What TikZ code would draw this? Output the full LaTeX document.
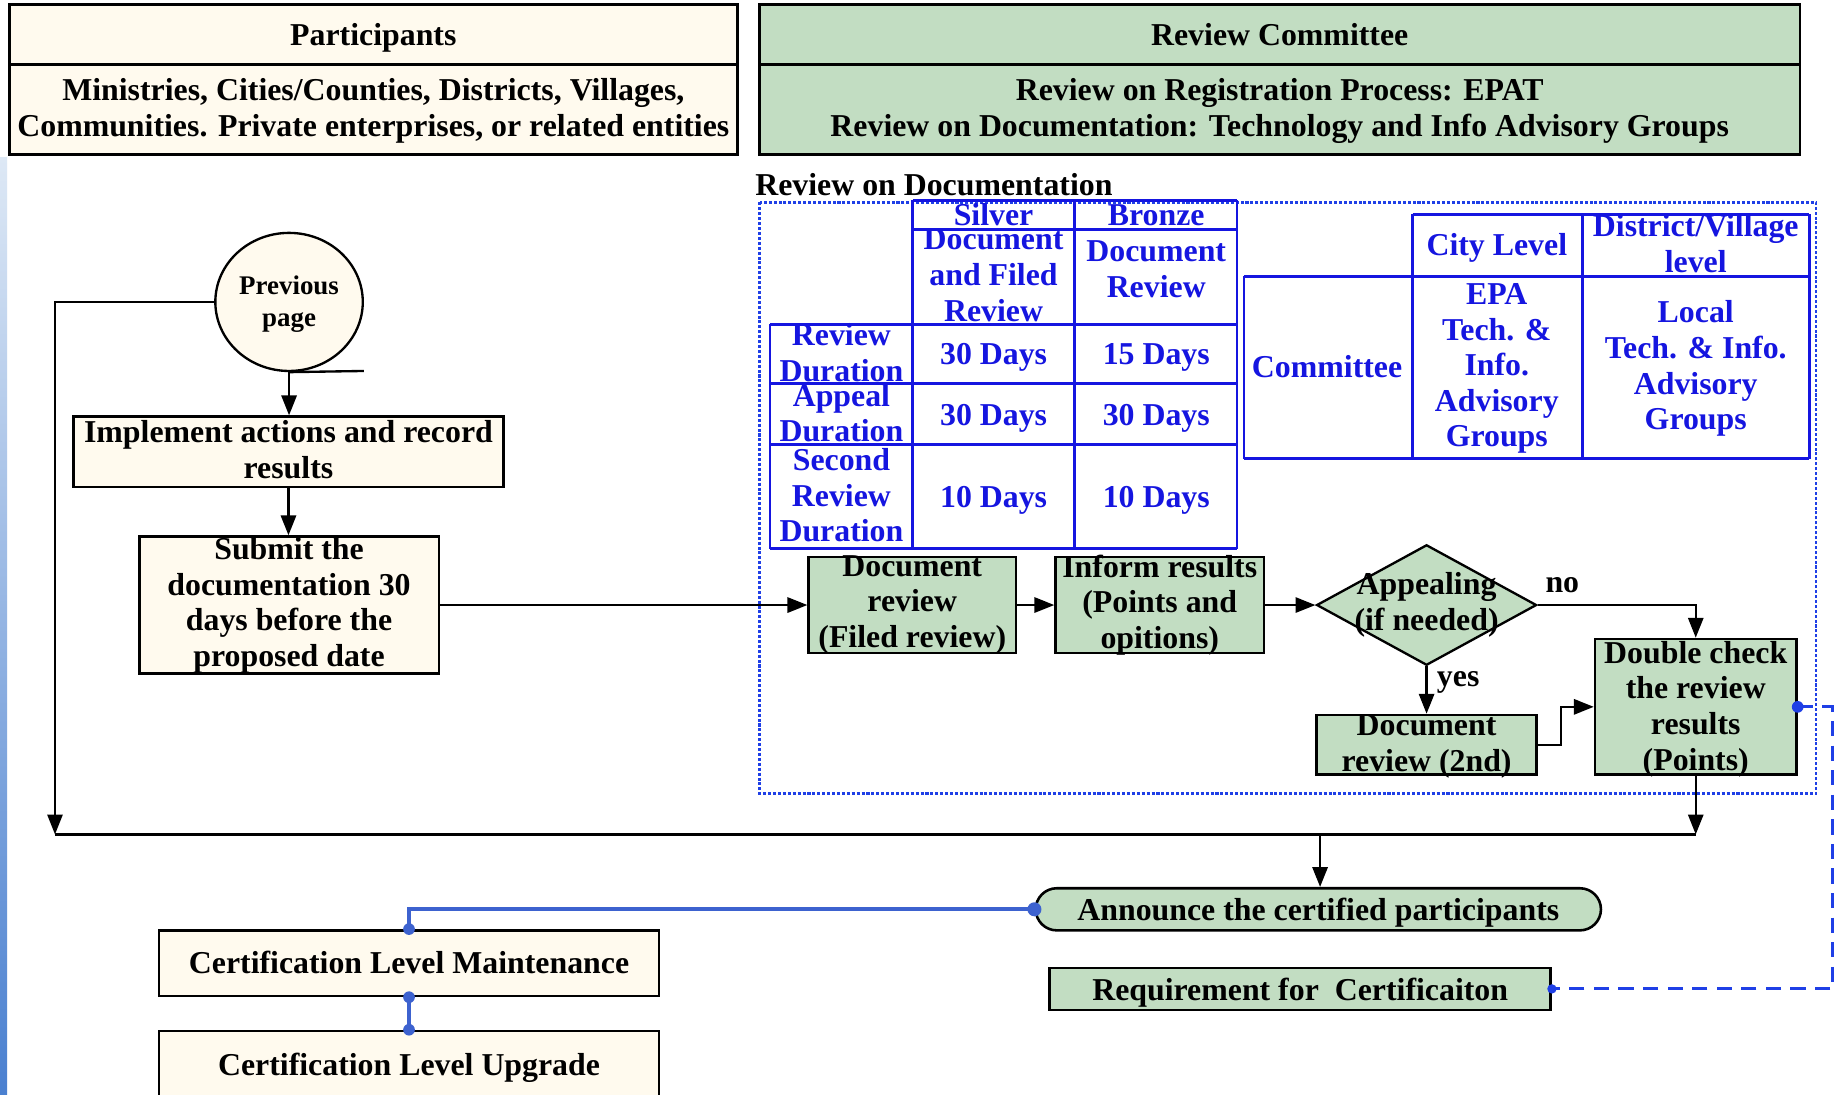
\documentclass[tikz,border=0pt]{standalone}
\usepackage{fontspec}
\setmainfont{Liberation Serif}
\usetikzlibrary{arrows.meta,shapes.geometric}
\definecolor{cream}{HTML}{FFFAEE}
\definecolor{sage}{HTML}{C2DDC2}
\definecolor{tblue}{HTML}{1515E0}
\definecolor{cblue}{HTML}{3D62CF}
\definecolor{fblue}{HTML}{1F3FE6}
\definecolor{stripa}{HTML}{DDE8F5}
\definecolor{stripb}{HTML}{4A80D0}
\newcommand\fsz{\fontsize{13.6}{15.2}\selectfont\bfseries}
\newcommand\fsm{\fontsize{11.5}{13.5}\selectfont\bfseries}
\begin{document}
\begin{tikzpicture}[x=0.5pt,y=-0.5pt,
  every node/.style={font=\fsz, inner sep=0pt, align=center},
  tx/.style={execute at begin node=\strut, execute at end node=\strut, yshift=-1.8pt},
  cbox/.style={draw=black, line width=1.1pt, fill=cream},
  gbox/.style={draw=black, line width=1.1pt, fill=sage},
  tline/.style={draw=tblue, line width=1.2pt},
  ttext/.style={tx, text=tblue},
  flow/.style={draw=black, line width=1pt, -{Triangle[length=8.5pt,width=6.5pt]}},
  plain/.style={draw=black, line width=1pt},
  bcon/.style={draw=cblue, line width=1.8pt},
  dashcon/.style={draw=fblue, line width=1.2pt, dash pattern=on 6.5pt off 4pt},
  frame/.style={draw=fblue, line width=1pt, dash pattern=on 1.3pt off 0.8pt}]
\useasboundingbox (0,0) rectangle (1568,935);
\fill[white] (0,0) rectangle (1568,935);
\shade[top color=stripa, bottom color=stripb] (0,135) rectangle (6,935);

% headers
\node[cbox, minimum width=311pt, minimum height=25.5pt] (ph) at (319,29.5) {};
\node[tx] (pht) at (319,29) {Participants};
\node[cbox, minimum width=311pt, minimum height=38.5pt] (pb) at (319,93.5) {};
\node[tx] (pbt) at (319,93) {Ministries, Cities/Counties, Districts, Villages,\\Communities. Private enterprises, or related entities};
\node[gbox, minimum width=444.5pt, minimum height=25.5pt] (rh) at (1093.5,29.5) {};
\node[tx] (rht) at (1093.5,29) {Review Committee};
\node[gbox, minimum width=444.5pt, minimum height=38.5pt] (rb) at (1093.5,93.5) {};
\node[tx] (rbt) at (1093.5,93) {Review on Registration Process: EPAT\\Review on Documentation: Technology and Info Advisory Groups};

\node[tx, anchor=west] (rodt) at (645,157) {Review on Documentation};
\draw[frame] (649,173) rectangle (1552,678);

% table 1
\draw[tline] (780,171) -- (1057,171) (780,196) -- (1057,196)
  (658,277) -- (1057,277) (658,328) -- (1057,328) (658,380) -- (1057,380) (658,469) -- (1057,469)
  (780,171) -- (780,469) (918,171) -- (918,469) (1057,171) -- (1057,469) (658,277) -- (658,469);
\node[ttext] (t1a) at (849,183) {Silver};
\node[ttext] (t1b) at (988,183) {Bronze};
\node[ttext] (t1c) at (849,236) {Document\\and Filed\\Review};
\node[ttext] (t1d) at (988,231) {Document\\Review};
\node[ttext] (t1e) at (719,302) {Review\\Duration};
\node[ttext] (t1f) at (719,354) {Appeal\\Duration};
\node[ttext] (t1g) at (719,424) {Second\\Review\\Duration};
\node[ttext] (t1h) at (849,302) {30 Days};
\node[ttext] (t1i) at (988,302) {15 Days};
\node[ttext] (t1j) at (849,354) {30 Days};
\node[ttext] (t1k) at (988,354) {30 Days};
\node[ttext] (t1l) at (849,424) {10 Days};
\node[ttext] (t1m) at (988,424) {10 Days};

% table 2
\draw[tline] (1207,183) -- (1546,183) (1063,236) -- (1546,236) (1063,392) -- (1546,392)
  (1063,236) -- (1063,392) (1207,183) -- (1207,392) (1352,183) -- (1352,392) (1546,183) -- (1546,392);
\node[ttext] (t2a) at (1279,209) {City Level};
\node[ttext] (t2b) at (1449,209) {District/Village\\level};
\node[ttext] (t2c) at (1134,313) {Committee};
\node[ttext] (t2d) at (1279,313) {EPA\\Tech. \&\\Info.\\Advisory\\Groups};
\node[ttext] (t2e) at (1449,313) {Local\\Tech. \& Info.\\Advisory\\Groups};

% flow
\node[ellipse, draw=black, line width=1pt, fill=cream, minimum width=63pt, minimum height=59pt, font=\fsm] (prev) at (247,258) {};
\node[tx, font=\fsm] (prevt) at (247,258) {Previous\\page};
\coordinate (tang) at (311,317);
\draw[plain] (prev.south) -- (tang);
\node[cbox, minimum width=183.5pt, minimum height=30pt] (impl) at (246.5,386) {};
\node[tx] (implt) at (246.5,385) {Implement actions and record\\results};
\node[cbox, minimum width=128pt, minimum height=58.5pt] (sub) at (247,517) {};
\node[tx] (subt) at (247,515.5) {Submit the\\documentation 30\\days before the\\proposed date};
\node[gbox, minimum width=88.5pt, minimum height=41pt] (dr) at (779.5,517) {};
\node[tx] (drt) at (779.5,515) {Document\\review\\(Filed review)};
\node[gbox, minimum width=89pt, minimum height=41pt] (inf) at (991,517) {};
\node[tx] (inft) at (991,515) {Inform results\\(Points and\\opitions)};
\node[diamond, draw=black, line width=1pt, fill=sage, minimum width=94pt, minimum height=51.5pt] (app) at (1219,517) {};
\node[tx] (appt) at (1219,515) {Appealing\\(if needed)};
\node[gbox, minimum width=94pt, minimum height=25.5pt] (dr2) at (1219,636.5) {};
\node[tx] (dr2t) at (1219,636) {Document\\review (2nd)};
\node[gbox, minimum width=86pt, minimum height=58pt] (dc) at (1449,604) {};
\node[tx] (dct) at (1449,604) {Double check\\the review\\results\\(Points)};

\draw[flow] (prev.south) -- (prev.south |- impl.north);
\draw[flow] (impl.south) -- (impl.south |- sub.north);
\draw[flow] (sub.east) -- (dr.west);
\draw[flow] (dr.east) -- (inf.west);
\draw[flow] (inf.east) -- (app.west);
\draw[flow] (app.east) -| (dc.north);
\node[tx] (no) at (1335,497) {no};
\draw[flow] (app.south) -- (dr2.north);
\node[tx] (yes) at (1246,577) {yes};
\coordinate (jog) at (1334,636.5);
\draw[flow] (dr2.east) -- (jog) |- (dc.west);

\coordinate (lc) at (47,258);
\coordinate (lb) at (47,713);
\coordinate (rb) at (1449,713);
\coordinate (mb) at (1128,713);
\draw[flow] (prev.west) -- (lc) -- (lb);
\draw[plain] (lb) -- (rb);
\draw[flow] (dc.south) -- (rb);

\node[gbox, rounded corners=9pt, minimum width=241.5pt, minimum height=18pt] (ann) at (1126.5,777) {};
\node[tx] (annt) at (1126.5,777) {Announce the certified participants};
\draw[flow] (mb) -- (mb |- ann.north);

\node[cbox, minimum width=213.5pt, minimum height=28pt] (cm) at (349.5,823) {};
\node[tx] (cmt) at (349.5,822) {Certification Level Maintenance};
\node[cbox, minimum width=213.5pt, minimum height=40pt] (cu) at (349.5,921) {};
\node[tx] (cut) at (349.5,909) {Certification Level Upgrade};
\node[gbox, minimum width=214pt, minimum height=18pt] (req) at (1111,845) {};
\node[tx] (reqt) at (1111,845) {Requirement for~~Certificaiton};

\draw[bcon] (ann.west) -| (cm.north);
\fill[cblue] (ann.west) circle (3pt);
\fill[cblue] (cm.north) circle (2.5pt);
\draw[cblue, line width=1.3pt] (cm.south) -- (cu.north);
\fill[cblue] (cm.south) circle (2.5pt);
\fill[cblue] (cu.north) circle (2.5pt);

\coordinate (dcr) at (1566,604);
\draw[dashcon] (dc.east) -- (dcr) |- (req.east);
\fill[fblue] (dc.east) circle (2.5pt);
\fill[fblue] (req.east) circle (2pt);
\end{tikzpicture}
\end{document}
